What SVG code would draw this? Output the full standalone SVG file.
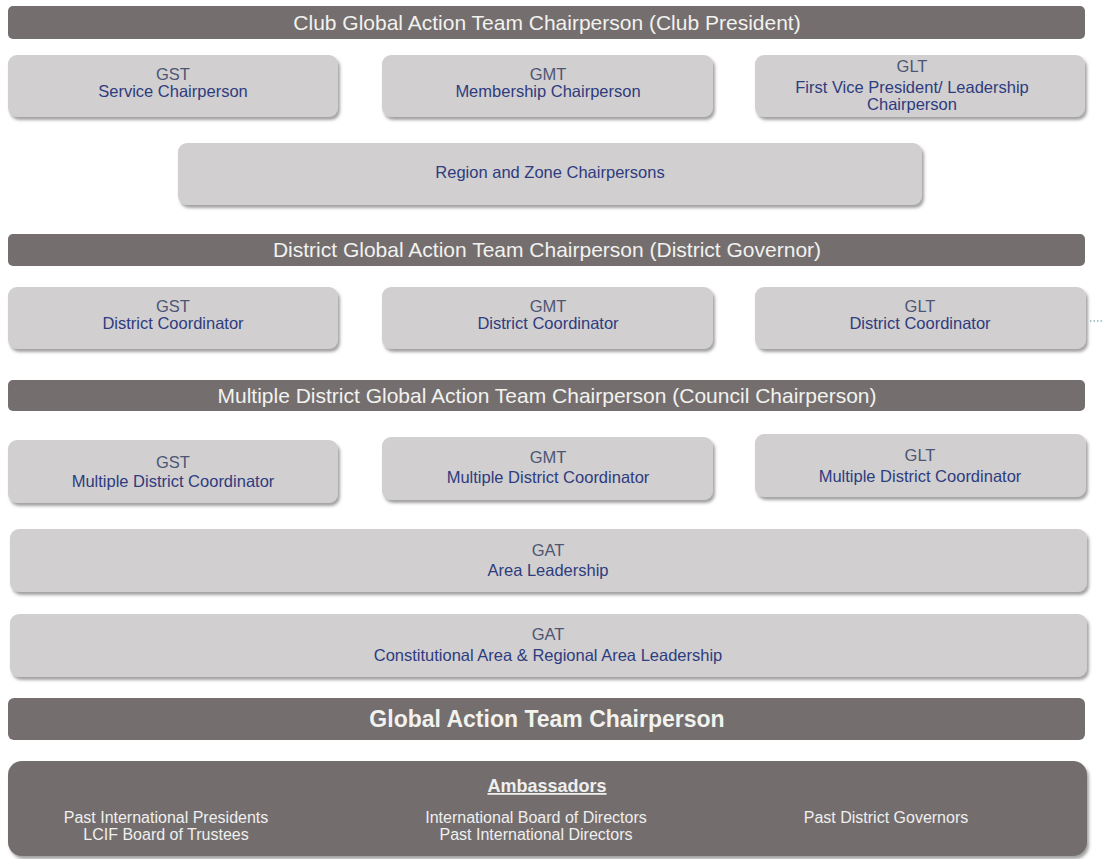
<svg xmlns="http://www.w3.org/2000/svg" width="1102" height="859" viewBox="0 0 1102 859">
<defs>
<filter id="sh" x="-5%" y="-20%" width="110%" height="150%">
<feDropShadow dx="2" dy="3" stdDeviation="1.5" flood-color="#555" flood-opacity="0.55"/>
</filter>
<style>
.bar{fill:#746e6e;}
.bt{font-family:"Liberation Sans",Arial,sans-serif;font-size:21px;fill:#f2f2ee;text-anchor:middle;}
.box{fill:#d1cfcf;filter:url(#sh);}
.t1{font-family:"Liberation Sans",Arial,sans-serif;font-size:16.5px;fill:#4d5675;text-anchor:middle;}
.t2{font-family:"Liberation Sans",Arial,sans-serif;font-size:16.5px;fill:#2e3c80;text-anchor:middle;}
.amb{fill:#736d6d;filter:url(#sh);}
.at{font-family:"Liberation Sans",Arial,sans-serif;font-size:16px;fill:#efefef;text-anchor:middle;}
</style>
</defs>
<rect width="1102" height="859" fill="#ffffff"/>
<g id="club-chair"><rect class="bar" x="8" y="6" width="1077" height="33" rx="5"/><text class="bt" x="547" y="30">Club Global Action Team Chairperson (Club President)</text></g>
<g id="club-gst"><rect class="box" x="8" y="55" width="330" height="62" rx="9"/><text class="t1" x="173" y="80">GST</text><text class="t2" x="173" y="97">Service Chairperson</text></g>
<g id="club-gmt"><rect class="box" x="382" y="55" width="331" height="62" rx="9"/><text class="t1" x="548" y="80">GMT</text><text class="t2" x="548" y="97">Membership Chairperson</text></g>
<g id="club-glt"><rect class="box" x="755" y="55" width="330" height="62" rx="9"/><text class="t1" x="912" y="72">GLT</text><text class="t2" x="912" y="93">First Vice President/ Leadership</text><text class="t2" x="912" y="110">Chairperson</text></g>
<g id="region-zone"><rect class="box" x="178" y="143" width="744" height="62" rx="9"/><text class="t2" x="550" y="178">Region and Zone Chairpersons</text></g>
<g id="district-chair"><rect class="bar" x="8" y="234" width="1077" height="32" rx="5"/><text class="bt" x="547" y="257">District Global Action Team Chairperson (District Governor)</text></g>
<g id="district-gst"><rect class="box" x="8" y="287" width="330" height="62" rx="9"/><text class="t1" x="173" y="312">GST</text><text class="t2" x="173" y="329">District Coordinator</text></g>
<g id="district-gmt"><rect class="box" x="382" y="287" width="331" height="62" rx="9"/><text class="t1" x="548" y="312">GMT</text><text class="t2" x="548" y="329">District Coordinator</text></g>
<g id="district-glt"><rect class="box" x="755" y="287" width="331" height="62" rx="9"/><text class="t1" x="920" y="312">GLT</text><text class="t2" x="920" y="329">District Coordinator</text></g>
<g id="connectors"><line x1="1090" y1="321" x2="1102" y2="321" stroke="#8fb3b3" stroke-width="1.5" stroke-dasharray="1.5 2"/></g>
<g id="md-chair"><rect class="bar" x="8" y="380" width="1077" height="31" rx="5"/><text class="bt" x="547" y="403">Multiple District Global Action Team Chairperson (Council Chairperson)</text></g>
<g id="md-gst"><rect class="box" x="8" y="440" width="330" height="63" rx="9"/><text class="t1" x="173" y="468">GST</text><text class="t2" x="173" y="487">Multiple District Coordinator</text></g>
<g id="md-gmt"><rect class="box" x="382" y="437" width="331" height="63" rx="9"/><text class="t1" x="548" y="463">GMT</text><text class="t2" x="548" y="483">Multiple District Coordinator</text></g>
<g id="md-glt"><rect class="box" x="755" y="434" width="331" height="63" rx="9"/><text class="t1" x="920" y="461">GLT</text><text class="t2" x="920" y="482">Multiple District Coordinator</text></g>
<g id="gat-area"><rect class="box" x="10" y="529" width="1077" height="63" rx="9"/><text class="t1" x="548" y="556">GAT</text><text class="t2" x="548" y="576">Area Leadership</text></g>
<g id="gat-const"><rect class="box" x="10" y="614" width="1077" height="63" rx="9"/><text class="t1" x="548" y="640">GAT</text><text class="t2" x="548" y="661">Constitutional Area &amp; Regional Area Leadership</text></g>
<g id="gat-chair"><rect class="bar" x="8" y="698" width="1077" height="42" rx="6"/><text class="bt" x="547" y="727" style="font-weight:bold;font-size:23px">Global Action Team Chairperson</text></g>
<g id="ambassadors"><rect class="amb" x="8" y="761" width="1079" height="95" rx="14"/>
<text class="at" x="547" y="792" style="font-weight:bold;font-size:18px;text-decoration:underline">Ambassadors</text>
<text class="at" x="166" y="823">Past International Presidents</text><text class="at" x="166" y="840">LCIF Board of Trustees</text>
<text class="at" x="536" y="823">International Board of Directors</text><text class="at" x="536" y="840">Past International Directors</text>
<text class="at" x="886" y="823">Past District Governors</text></g>
</svg>
